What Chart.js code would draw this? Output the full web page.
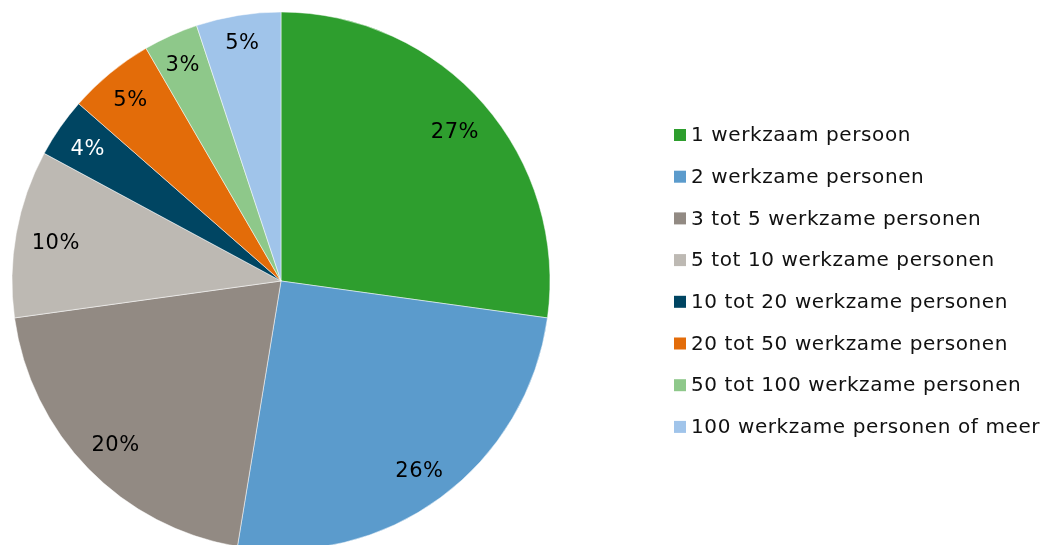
<!DOCTYPE html>
<html>
<head>
<meta charset="utf-8">
<script src="https://cdn.jsdelivr.net/npm/chart.js@4"></script>
<style>
  html, body { margin: 0; padding: 0; background: #fff; }
  #wrap { width: 1046px; height: 545px; position: relative; }
</style>
</head>
<body>
<div id="wrap"><canvas id="myChart" width="1046" height="545"></canvas></div>
<script>
// categories (legend order = slice order, clockwise from top)
const categories = [
    '1 werkzaam persoon',
    '2 werkzame personen',
    '3 tot 5 werkzame personen',
    '5 tot 10 werkzame personen',
    '10 tot 20 werkzame personen',
    '20 tot 50 werkzame personen',
    '50 tot 100 werkzame personen',
    '100 werkzame personen of meer'
];
// shares in percent
const shares = [27.3, 25.5, 20.3, 10.1, 3.6, 5.2, 3.3, 5.1];
// labels printed on the slices
const shareLabels = ['27%', '26%', '20%', '10%', '4%', '5%', '3%', '5%'];
const colours = ['#2e9e2e', '#5b9bcc', '#928a83', '#bdb9b3', '#004562', '#e36c09', '#8ec88a', '#a0c4ea'];
const labelColours = ['#000', '#000', '#000', '#000', '#fff', '#000', '#000', '#000'];

const FONT = '"DejaVu Sans", Verdana, sans-serif';

// draws the percentages inside the slices, near the outer edge ("inside end")
const sliceLabels = {
    id: 'sliceLabels',
    afterDatasetsDraw(chart) {
        const ctx = chart.ctx;
        const arcs = chart.getDatasetMeta(0).data;
        ctx.save();
        ctx.font = '21px ' + FONT;
        ctx.letterSpacing = '0.5px';
        ctx.textAlign = 'center';
        ctx.textBaseline = 'middle';
        arcs.forEach(function(arc, i) {
            const p = arc.getProps(['x', 'y', 'startAngle', 'endAngle', 'outerRadius']);
            const mid = (p.startAngle + p.endAngle) / 2;
            const halfW = ctx.measureText(shareLabels[i]).width / 2;
            const halfH = 8;
            // how far the text box reaches along the radius
            const reach = halfW * Math.abs(Math.cos(mid)) + halfH * Math.abs(Math.sin(mid));
            const r = p.outerRadius - 15 - reach;
            ctx.fillStyle = labelColours[i];
            ctx.fillText(shareLabels[i], p.x + Math.cos(mid) * r, p.y + Math.sin(mid) * r + 3);
        });
        ctx.restore();
    }
};

// legend on the right, drawn on the same canvas
const sideLegend = {
    id: 'sideLegend',
    afterDraw(chart) {
        const ctx = chart.ctx;
        ctx.save();
        ctx.font = '20px ' + FONT;
        ctx.letterSpacing = '0.6px';
        ctx.textBaseline = 'middle';
        ctx.textAlign = 'left';
        categories.forEach(function(name, i) {
            const y = 135 + i * 41.7;
            ctx.fillStyle = colours[i];
            ctx.fillRect(674, y - 6, 12, 12);
            ctx.fillStyle = '#111';
            ctx.fillText(name, 691, y + 1);
        });
        ctx.restore();
    }
};

myChart = new Chart(document.getElementById('myChart'), {
    type: 'pie',
    data: {
        labels: categories,
        datasets: [{
            data: shares,
            backgroundColor: colours,
            borderWidth: 0.5,
            borderColor: '#ffffff'
        }]
    },
    options: {
        responsive: false,
        animation: false,
        radius: 269,
        layout: { padding: { left: 0, top: 17, right: 484, bottom: 0 } },
        plugins: {
            legend: { display: false },
            tooltip: { enabled: false }
        }
    },
    plugins: [sliceLabels, sideLegend]
});
</script>
</body>
</html>
